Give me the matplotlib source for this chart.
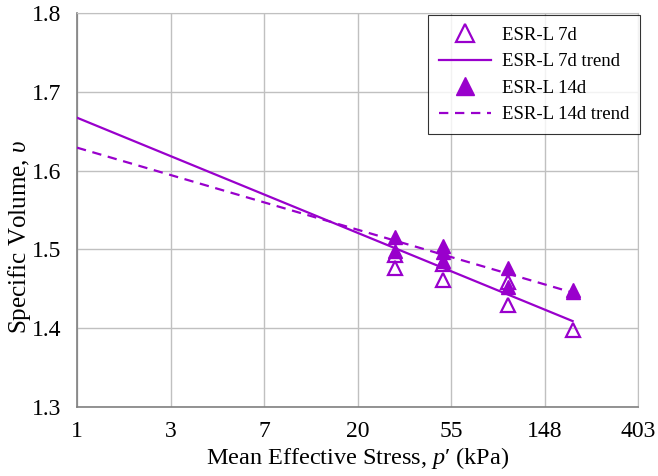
import numpy as np
import matplotlib
matplotlib.use("Agg")
import matplotlib.pyplot as plt

plt.rcParams["font.family"] = ["Liberation Serif", "DejaVu Serif"]
plt.rcParams["mathtext.fontset"] = "custom"
plt.rcParams["mathtext.rm"] = "Liberation Serif"
plt.rcParams["mathtext.it"] = "Liberation Serif:italic"

# Mean effective stress (kPa) and specific volume for each curing age
p_7d = [30, 30, 50, 50, 100, 100, 200]
v_7d = [1.493, 1.476, 1.482, 1.461, 1.458, 1.429, 1.398]

p_14d = [30, 30, 50, 50, 50, 100, 100, 200, 200]
v_14d = [1.516, 1.498, 1.504, 1.497, 1.485, 1.476, 1.452, 1.449, 1.446]

# Logarithmic trend lines: v = a - b * ln(p'), drawn from p' = 1 to 200 kPa
trend_7d = (1.667, 0.0487)
trend_14d = (1.629, 0.0347)
trend_range = (1.0, 200.0)

x_ticks = np.exp(np.arange(0, 7))
x_tick_labels = ["1", "3", "7", "20", "55", "148", "403"]
y_ticks = [1.3, 1.4, 1.5, 1.6, 1.7, 1.8]

purple = "#9900CC"

fig = plt.figure(figsize=(6.58, 4.76), dpi=100)
ax = fig.add_axes([0.117, 0.145, 0.853, 0.828])

p_line = np.exp(np.linspace(np.log(trend_range[0]), np.log(trend_range[1]), 50))

ax.plot(p_7d, v_7d, linestyle="none", marker="^", markersize=9.5,
        markerfacecolor="none", markeredgecolor=purple, markeredgewidth=1.6,
        label="ESR-L 7d", zorder=4)
ax.plot(p_line, trend_7d[0] - trend_7d[1] * np.log(p_line), color=purple,
        linewidth=1.6, label="ESR-L 7d trend", zorder=3)
ax.plot(p_14d, v_14d, linestyle="none", marker="^", markersize=9.5,
        markerfacecolor=purple, markeredgecolor=purple, markeredgewidth=1.0,
        label="ESR-L 14d", zorder=5)
ax.plot(p_line, trend_14d[0] - trend_14d[1] * np.log(p_line), color=purple,
        linewidth=1.6, dashes=(4.2, 3.0), label="ESR-L 14d trend", zorder=3)

ax.set_xscale("log")
ax.set_xlim(x_ticks[0], x_ticks[-1])
ax.set_ylim(1.3, 1.8)
ax.set_xticks(x_ticks)
ax.set_xticklabels(x_tick_labels)
ax.xaxis.set_minor_locator(matplotlib.ticker.NullLocator())
ax.set_yticks(y_ticks)
ax.set_yticklabels([f"{t:.1f}" for t in y_ticks])
ax.tick_params(axis="both", length=0, labelsize=17)
ax.tick_params(axis="x", pad=10)
ax.tick_params(axis="y", pad=11)

ax.grid(True, color="#c0c0c0", linewidth=1.0)
ax.set_axisbelow(True)
for side in ("top", "right"):
    ax.spines[side].set_color("#c0c0c0")
for side in ("left", "bottom"):
    ax.spines[side].set_color("#808080")
    ax.spines[side].set_linewidth(1.2)

ax.set_xlabel("Mean Effective Stress, $\\mathit{p}$\u2032 (kPa)", fontsize=17.5, labelpad=2)
ax.set_ylabel(r"Specific Volume, $\upsilon$", fontsize=18)
ax.yaxis.set_label_coords(-0.102, 0.43)
ax.yaxis.label.set_verticalalignment("center")

leg = ax.legend(loc="upper right", bbox_to_anchor=(0.973, 0.968),
                bbox_transform=fig.transFigure, fontsize=13.5,
                frameon=True, fancybox=False, handlelength=2.8,
                labelspacing=0.5, borderpad=0.6, handletextpad=0.55,
                borderaxespad=0, markerscale=1.4)
leg.get_frame().set_edgecolor("black")
leg.get_frame().set_linewidth(0.8)

fig.savefig("out.png", dpi=100)
